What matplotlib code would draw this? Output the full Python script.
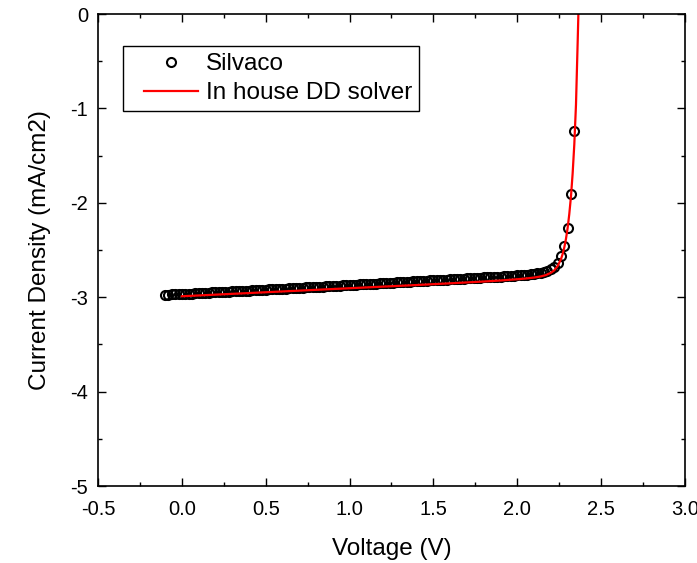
import matplotlib
matplotlib.use("Agg")
import matplotlib.pyplot as plt
from matplotlib.ticker import MultipleLocator, FormatStrFormatter
from matplotlib.legend_handler import HandlerLine2D

plt.rcParams['font.family'] = ['Liberation Sans', 'DejaVu Sans']
plt.rcParams['axes.unicode_minus'] = False

# Silvaco simulation (open circles)
silvaco_v = [-0.10, -0.08, -0.06, -0.04, -0.02, 0.00, 0.02, 0.04, 0.06, 0.08,
             0.10, 0.12, 0.14, 0.16, 0.18, 0.20, 0.22, 0.24, 0.26, 0.28,
             0.30, 0.32, 0.34, 0.36, 0.38, 0.40, 0.42, 0.44, 0.46, 0.48,
             0.50, 0.52, 0.54, 0.56, 0.58, 0.60, 0.62, 0.64, 0.66, 0.68,
             0.70, 0.72, 0.74, 0.76, 0.78, 0.80, 0.82, 0.84, 0.86, 0.88,
             0.90, 0.92, 0.94, 0.96, 0.98, 1.00, 1.02, 1.04, 1.06, 1.08,
             1.10, 1.12, 1.14, 1.16, 1.18, 1.20, 1.22, 1.24, 1.26, 1.28,
             1.30, 1.32, 1.34, 1.36, 1.38, 1.40, 1.42, 1.44, 1.46, 1.48,
             1.50, 1.52, 1.54, 1.56, 1.58, 1.60, 1.62, 1.64, 1.66, 1.68,
             1.70, 1.72, 1.74, 1.76, 1.78, 1.80, 1.82, 1.84, 1.86, 1.88,
             1.90, 1.92, 1.94, 1.96, 1.98, 2.00, 2.02, 2.04, 2.06, 2.08,
             2.10, 2.12, 2.14, 2.16, 2.18, 2.20, 2.22, 2.24, 2.26, 2.28,
             2.30, 2.32, 2.34]
silvaco_j = [-2.975, -2.973, -2.971, -2.969, -2.968, -2.966, -2.964, -2.962, -2.961, -2.959,
             -2.957, -2.955, -2.953, -2.952, -2.950, -2.948, -2.946, -2.944, -2.943, -2.941,
             -2.939, -2.937, -2.935, -2.933, -2.932, -2.930, -2.928, -2.926, -2.924, -2.922,
             -2.920, -2.918, -2.917, -2.915, -2.913, -2.911, -2.909, -2.907, -2.905, -2.903,
             -2.901, -2.899, -2.897, -2.895, -2.893, -2.891, -2.889, -2.887, -2.885, -2.883,
             -2.881, -2.879, -2.877, -2.875, -2.873, -2.871, -2.869, -2.867, -2.865, -2.863,
             -2.861, -2.859, -2.857, -2.855, -2.853, -2.851, -2.849, -2.847, -2.845, -2.843,
             -2.841, -2.839, -2.837, -2.835, -2.833, -2.831, -2.829, -2.827, -2.825, -2.823,
             -2.821, -2.819, -2.817, -2.815, -2.813, -2.811, -2.809, -2.807, -2.805, -2.803,
             -2.801, -2.799, -2.797, -2.795, -2.793, -2.791, -2.789, -2.787, -2.785, -2.783,
             -2.781, -2.779, -2.777, -2.775, -2.772, -2.770, -2.767, -2.764, -2.761, -2.757,
             -2.753, -2.748, -2.742, -2.734, -2.722, -2.705, -2.678, -2.635, -2.565, -2.455,
             -2.265, -1.910, -1.240]

# In-house drift-diffusion solver (red line)
dd_v = [0.00, 0.20, 0.40, 0.60, 0.80, 1.00, 1.20, 1.40, 1.60, 1.80,
        1.90, 2.00, 2.05, 2.10, 2.14, 2.17, 2.20, 2.22, 2.24, 2.26,
        2.27, 2.28, 2.29, 2.30, 2.31, 2.32, 2.33, 2.34, 2.35, 2.36, 2.365]
dd_j = [-2.990, -2.973, -2.956, -2.939, -2.922, -2.905, -2.888, -2.871, -2.853, -2.834,
        -2.823, -2.810, -2.802, -2.792, -2.780, -2.766, -2.742, -2.716, -2.672, -2.600,
        -2.545, -2.475, -2.385, -2.270, -2.120, -1.935, -1.690, -1.380, -0.960, -0.300, 0.05]

x_label = "Voltage (V)"
y_label = "Current Density (mA/cm2)"
legend_labels = ["Silvaco", "In house DD solver"]

fig = plt.figure(figsize=(6.97, 5.63), dpi=100)
ax = fig.add_axes([98/697, 1-486/563, (685-98)/697, (486-14)/563])

ax.plot(silvaco_v, silvaco_j, linestyle='none', marker='o', markersize=6.5,
        markerfacecolor='none', markeredgecolor='black', markeredgewidth=1.5,
        label=legend_labels[0])
ax.plot(dd_v, dd_j, color='#ff0000', linewidth=1.6, label=legend_labels[1])

ax.set_xlim(-0.5, 3.0)
ax.set_ylim(-5, 0)
ax.xaxis.set_major_locator(MultipleLocator(0.5))
ax.xaxis.set_minor_locator(MultipleLocator(0.25))
ax.yaxis.set_major_locator(MultipleLocator(1))
ax.yaxis.set_minor_locator(MultipleLocator(0.5))
ax.xaxis.set_major_formatter(FormatStrFormatter('%.1f'))
ax.yaxis.set_major_formatter(FormatStrFormatter('%d'))

ax.tick_params(which='both', direction='in', top=True, right=True, width=1.0)
ax.tick_params(which='major', length=6, labelsize=14.5)
ax.tick_params(axis='x', which='major', pad=10)
ax.tick_params(axis='y', which='major', pad=7)
ax.tick_params(which='minor', length=3)
for s in ax.spines.values():
    s.set_linewidth(1.2)

ax.set_xlabel(x_label, fontsize=17.5, labelpad=14)
ax.set_ylabel(y_label, fontsize=17.5, labelpad=14)

hmap = {h: HandlerLine2D(xpad=0.55) for h in ax.get_lines()}
leg = ax.legend(loc='upper left', bbox_to_anchor=(123/697, 1-46/563),
                bbox_transform=fig.transFigure, borderaxespad=0,
                fontsize=17.5, fancybox=False, framealpha=1, edgecolor='black',
                handlelength=2.8, handletextpad=0.3, labelspacing=0.28,
                borderpad=0.3, handler_map=hmap)
leg.get_frame().set_linewidth(1.0)

fig.savefig("out.png", dpi=100)
